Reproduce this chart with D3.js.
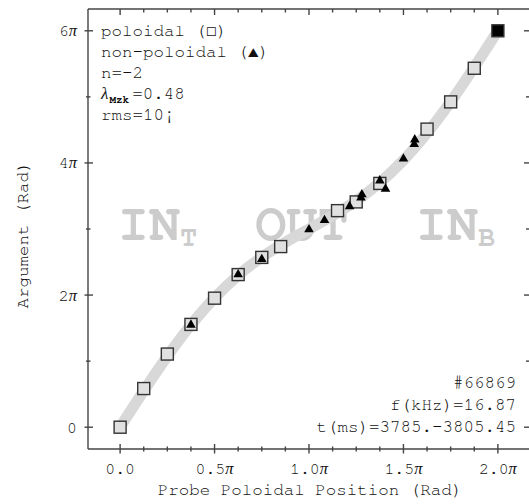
<!DOCTYPE html>
<html><head><meta charset="utf-8">
<script src="https://cdn.jsdelivr.net/npm/d3@7"></script>
<style>body{margin:0;background:#fff} svg{display:block}</style>
</head><body><svg id="c" width="529" height="504"></svg>
<script>
// ---- data (x, y in units of pi) ----
const poloidalX = [0, 0.125, 0.25, 0.375, 0.5, 0.625, 0.75, 0.85, 1.151, 1.25, 1.375, 1.625, 1.75, 1.875, 2.0];
const poloidalY = [0, 0.585, 1.107, 1.556, 1.953, 2.31, 2.57, 2.734, 3.278, 3.41, 3.69, 4.512, 4.924, 5.433, 6.0];
const nonPoloidalX = [0.375, 0.625, 0.75, 1.0, 1.082, 1.215, 1.275, 1.28, 1.375, 1.405, 1.5, 1.557, 1.56];
const nonPoloidalY = [1.556, 2.32, 2.55, 3.0, 3.14, 3.35, 3.48, 3.53, 3.74, 3.615, 4.07, 4.29, 4.36];
const fitX = [0, 0.125, 0.25, 0.375, 0.5, 0.625, 0.75, 0.875, 1.0, 1.125, 1.25, 1.375, 1.5, 1.625, 1.75, 1.875, 2.0];
const fitY = [0, 0.55, 1.074, 1.549, 1.958, 2.299, 2.574, 2.8, 3.0, 3.2, 3.426, 3.701, 4.042, 4.451, 4.926, 5.45, 6.0];
const xMajor = [0, 0.5, 1.0, 1.5, 2.0];
const xMajorLabels = ["0.0", "0.5", "1.0", "1.5", "2.0"];
const xMinor = [0.125, 0.25, 0.375, 0.625, 0.75, 0.875, 1.125, 1.25, 1.375, 1.625, 1.75, 1.875];
const yMajor = [0, 2, 4, 6];
const yMajorLabels = ["0", "2", "4", "6"];
const yMinor = [1, 3, 5];
const legendLines = ["poloidal (\u25A1)", "non-poloidal (\u25B2)", "n=-2", "LAMBDA", "rms=10\u00A1"];
const infoLines = ["#66869", "f(kHz)=16.87", "t(ms)=3785.-3805.45"];
const regionLabels = [{main: "IN", sub: "T", x: -0.012}, {main: "OUT", sub: "", x: 0.715}, {main: "IN", sub: "B", x: 1.565}];
const regionY = 2.84;

const svg = d3.select("#c");
const mono = "'Nimbus Mono PS', 'FreeMono', 'Courier', 'Liberation Mono', 'Courier New', monospace";
const serif = "'Liberation Serif', 'Times New Roman', serif";
const axisCol = "#444";
const textCol = "#111";

const x = d3.scaleLinear().domain([-0.17, 2.17]).range([88, 530]);
const y = d3.scaleLinear().domain([-0.33, 6.33]).range([449, 9]);

// region watermark labels
regionLabels.forEach(r => {
  const t = svg.append("text").attr("x", x(r.x)).attr("y", y(regionY))
    .attr("font-family", mono).attr("font-weight", "bold").attr("font-size", 52)
    .attr("fill", "#cccccc");
  t.append("tspan").text(r.main);
  if (r.sub) t.append("tspan").attr("font-size", 28).attr("dy", 6).text(r.sub);
});

// fitted curve
const line = d3.line().x((d, i) => x(fitX[i])).y((d, i) => y(fitY[i])).curve(d3.curveCatmullRom);
svg.append("path").datum(fitX).attr("d", line).attr("fill", "none")
  .attr("stroke", "#d8d8d8").attr("stroke-width", 11);

// axes frame
const g = svg.append("g").attr("stroke", axisCol).attr("stroke-width", 1.4).attr("fill", "none");
g.append("line").attr("x1", x.range()[0]).attr("x2", x.range()[1]).attr("y1", y.range()[0]).attr("y2", y.range()[0]);
g.append("line").attr("x1", x.range()[0]).attr("x2", x.range()[1]).attr("y1", y.range()[1]).attr("y2", y.range()[1]);
g.append("line").attr("x1", x.range()[0]).attr("x2", x.range()[0]).attr("y1", y.range()[0]).attr("y2", y.range()[1]);
g.append("line").attr("x1", x.range()[1]).attr("x2", x.range()[1]).attr("y1", y.range()[0]).attr("y2", y.range()[1]);

const yb = y.range()[0], yt = y.range()[1], xl = x.range()[0], xr = x.range()[1] - 1;
// bottom ticks (crossing)
g.selectAll(null).data(xMajor).join("line").attr("x1", d => x(d)).attr("x2", d => x(d)).attr("y1", yb - 5).attr("y2", yb + 4.5);
g.selectAll(null).data(xMinor).join("line").attr("x1", d => x(d)).attr("x2", d => x(d)).attr("y1", yb - 2.5).attr("y2", yb + 2.5);
// top ticks (inward)
g.selectAll(null).data(xMajor).join("line").attr("x1", d => x(d)).attr("x2", d => x(d)).attr("y1", yt).attr("y2", yt + 6);
g.selectAll(null).data(xMinor).join("line").attr("x1", d => x(d)).attr("x2", d => x(d)).attr("y1", yt).attr("y2", yt + 3.5);
// left ticks (crossing)
g.selectAll(null).data(yMajor).join("line").attr("y1", d => y(d)).attr("y2", d => y(d)).attr("x1", xl - 3.5).attr("x2", xl + 5);
g.selectAll(null).data(yMinor).join("line").attr("y1", d => y(d)).attr("y2", d => y(d)).attr("x1", xl - 2).attr("x2", xl + 2.5);
// right ticks (inward)
g.selectAll(null).data(yMajor).join("line").attr("y1", d => y(d)).attr("y2", d => y(d)).attr("x1", xr - 5).attr("x2", xr + 2);
g.selectAll(null).data(yMinor).join("line").attr("y1", d => y(d)).attr("y2", d => y(d)).attr("x1", xr - 3).attr("x2", xr + 2);

// tick labels
const tl = svg.append("g").attr("font-family", mono).attr("font-size", 16.5).attr("fill", textCol);
xMajor.forEach((d, i) => {
  const t = tl.append("text").attr("x", x(d)).attr("y", 474).attr("text-anchor", "middle");
  t.append("tspan").text(xMajorLabels[i]);
  if (d !== 0) t.append("tspan").attr("font-family", serif).attr("font-style", "italic").text("\u03C0");
});
yMajor.forEach((d, i) => {
  const t = tl.append("text").attr("x", 77).attr("y", y(d)).attr("dy", "0.33em").attr("text-anchor", "end");
  t.append("tspan").text(yMajorLabels[i]);
  if (d !== 0) t.append("tspan").attr("font-family", serif).attr("font-style", "italic").text("\u03C0");
});

// axis titles
svg.append("text").attr("x", (x.range()[0] + x.range()[1]) / 2 + 1).attr("y", 495).attr("text-anchor", "middle")
  .attr("font-family", mono).attr("font-size", 17.5).attr("fill", textCol).text("Probe Poloidal Position (Rad)");
svg.append("text").attr("transform", "translate(28,235) rotate(-90)").attr("text-anchor", "middle")
  .attr("font-family", mono).attr("font-size", 17.5).attr("fill", textCol).text("Argument (Rad)");

// poloidal squares
const sq = 12;
svg.append("g").selectAll("rect").data(poloidalX).join("rect")
  .attr("x", d => x(d) - sq / 2).attr("y", (d, i) => y(poloidalY[i]) - sq / 2)
  .attr("width", sq).attr("height", sq)
  .attr("fill", (d, i) => i === poloidalX.length - 1 ? "#000" : "#e0e0e0")
  .attr("stroke", "#333").attr("stroke-width", 1.4);

// non-poloidal triangles
const tri = d3.symbol().type(d3.symbolTriangle).size(40);
svg.append("g").selectAll("path").data(nonPoloidalX).join("path")
  .attr("d", tri).attr("transform", (d, i) => `translate(${x(d)},${y(nonPoloidalY[i]) + 0.5})`)
  .attr("fill", "#000");

// legend text
const lg = svg.append("g").attr("font-family", mono).attr("font-size", 17.5).attr("fill", textCol);
legendLines.forEach((s, i) => {
  const t = lg.append("text").attr("x", 101).attr("y", 36 + i * 21);
  if (s === "LAMBDA") {
    t.append("tspan").attr("font-family", serif).attr("font-style", "italic").attr("font-size", 17).text("\u03BB");
    t.append("tspan").attr("font-size", 11).attr("font-weight", "bold").attr("dy", 4).attr("dx", 1).text("Mzk");
    t.append("tspan").attr("dy", -4).attr("dx", 3).text("=0.48");
  } else {
    t.text(s);
  }
});

// info text
const ig = svg.append("g").attr("font-family", mono).attr("font-size", 17.5).attr("fill", textCol).attr("text-anchor", "end");
infoLines.forEach((s, i) => {
  ig.append("text").attr("x", 516).attr("y", 388 + i * 21.8).text(s);
});
</script></body></html>
